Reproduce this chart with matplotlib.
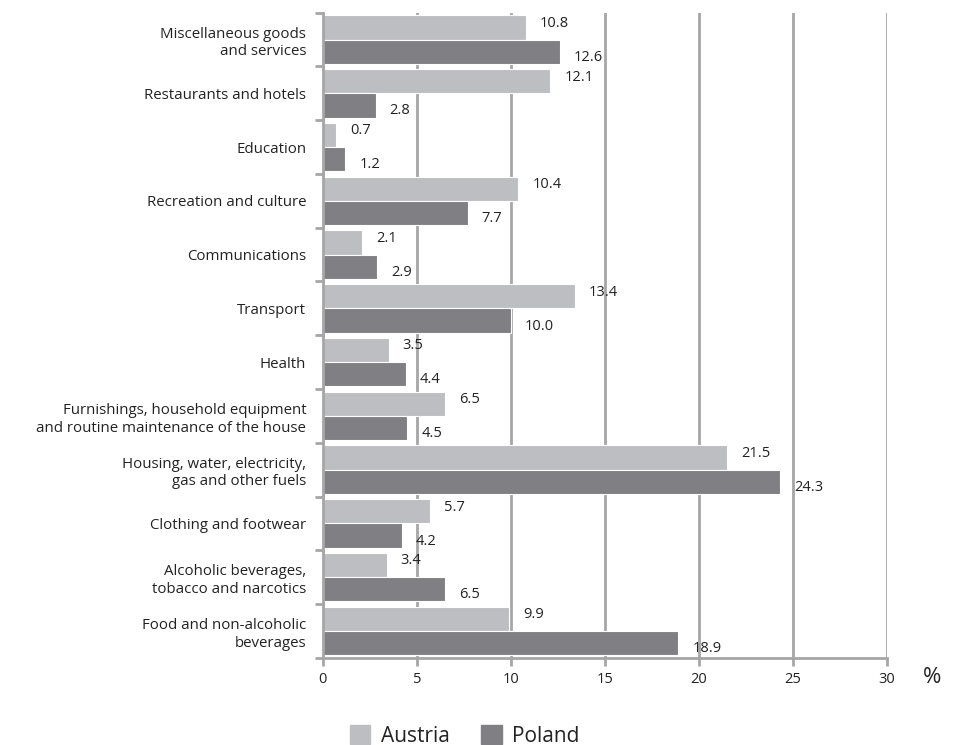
import matplotlib.pyplot as plt
import numpy as np

categories = [
    "Food and non-alcoholic\nbeverages",
    "Alcoholic beverages,\ntobacco and narcotics",
    "Clothing and footwear",
    "Housing, water, electricity,\ngas and other fuels",
    "Furnishings, household equipment\nand routine maintenance of the house",
    "Health",
    "Transport",
    "Communications",
    "Recreation and culture",
    "Education",
    "Restaurants and hotels",
    "Miscellaneous goods\nand services",
]
austria = [9.9, 3.4, 5.7, 21.5, 6.5, 3.5, 13.4, 2.1, 10.4, 0.7, 12.1, 10.8]
poland = [18.9, 6.5, 4.2, 24.3, 4.5, 4.4, 10.0, 2.9, 7.7, 1.2, 2.8, 12.6]
x_ticks = [0, 5, 10, 15, 20, 25, 30]

plt.rcParams["font.family"] = ["Open Sans", "DejaVu Sans"]

c_aut = "#bdbec2"
c_pol = "#7f7f84"
grid_c = "#a6a6a6"
txt_c = "#222222"

fig = plt.figure(figsize=(9.58, 7.45), dpi=100)
ax = fig.add_axes([0.337, 0.117, 0.589, 0.866])

y = np.arange(len(categories))
h = 0.45
ax.barh(y + h / 2, austria, height=h, color=c_aut, edgecolor="white", linewidth=0.8, zorder=2)
ax.barh(y - h / 2, poland, height=h, color=c_pol, edgecolor="white", linewidth=0.8, zorder=2)

for yi, v in zip(y, austria):
    ax.annotate(f"{v:.1f}", (v, yi + h / 2), xytext=(10, 3), textcoords="offset points",
                va="center", ha="left", fontsize=10.5, color=txt_c, zorder=3)
for yi, v in zip(y, poland):
    ax.annotate(f"{v:.1f}", (v, yi - h / 2), xytext=(10, -4), textcoords="offset points",
                va="center", ha="left", fontsize=10.5, color=txt_c, zorder=3)

ax.set_xlim(0, 30)
ax.set_ylim(-0.5, len(categories) - 0.5)
ax.set_xticks(x_ticks)
ax.set_xticklabels([str(t) for t in x_ticks], fontsize=10.5, color=txt_c)
ax.set_yticks(y)
ax.set_yticklabels(categories, fontsize=10.8, color=txt_c, linespacing=1.25)
ax.tick_params(axis="y", length=0, pad=12)
ax.set_yticks(np.arange(len(categories) + 1) - 0.5, minor=True)
ax.tick_params(axis="y", which="minor", length=6, color=grid_c, width=2)
ax.tick_params(axis="x", length=6, color=grid_c, width=2, pad=4)

ax.grid(axis="x", color=grid_c, linewidth=2, zorder=1)
for s in ["top", "right"]:
    ax.spines[s].set_visible(False)
for s in ["left", "bottom"]:
    ax.spines[s].set_color(grid_c)
    ax.spines[s].set_linewidth(2)

fig.text(0.982, 0.09, "%", fontsize=16, color=txt_c, ha="right", va="center")

handles = [plt.Rectangle((0, 0), 1, 1, color=c_aut), plt.Rectangle((0, 0), 1, 1, color=c_pol)]
fig.legend(handles, ["Austria", "Poland"], loc="center", bbox_to_anchor=(0.485, 0.012),
           ncol=2, frameon=False, fontsize=15, handlelength=1.0, handleheight=1.0,
           columnspacing=1.5, handletextpad=0.5, labelcolor=txt_c)

fig.savefig("out.png", dpi=100)
